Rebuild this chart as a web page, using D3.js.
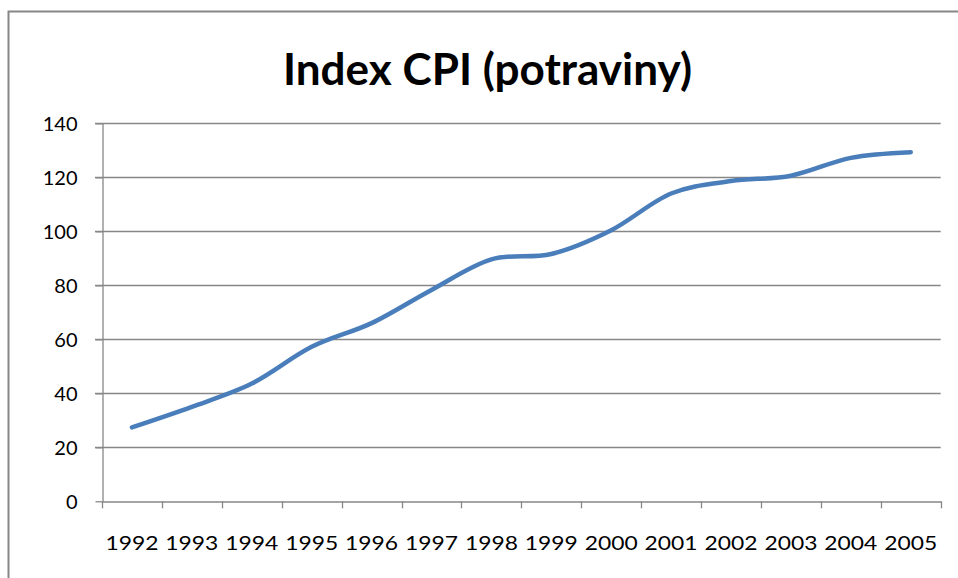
<!DOCTYPE html>
<html><head><meta charset="utf-8">
<script src="https://cdn.jsdelivr.net/npm/d3@7"></script>
<style>html,body{margin:0;padding:0;background:#fff;}svg{display:block;}</style>
</head><body>
<script>
const title = "Index CPI (potraviny)";
const years = ["1992","1993","1994","1995","1996","1997","1998","1999","2000","2001","2002","2003","2004","2005"];
const cpi = [27.4, 35, 43.6, 57.2, 66, 78.3, 89.6, 91.6, 100.4, 114, 118.6, 120.6, 127.2, 129.3];
const yTicks = [0, 20, 40, 60, 80, 100, 120, 140];

const W = 958, H = 578;
const svg = d3.select("body").append("svg").attr("width", W).attr("height", H);
svg.append("rect").attr("width", W).attr("height", H).attr("fill", "#fff");
// outer frame (cut off at right/bottom)
svg.append("rect").attr("x", 8.5).attr("y", 11.5).attr("width", W + 20).attr("height", H + 20)
  .attr("fill", "none").attr("stroke", "#878787").attr("stroke-width", 2);

const m = {l: 102, r: 940.7, t: 123.3, b: 501.3};
const x = d3.scaleBand().domain(years).range([m.l, m.r]);
const y = d3.scaleLinear().domain([0, 140]).range([m.b, m.t]);
const font = "Lato, 'Open Sans', sans-serif";

// gridlines
svg.append("g").selectAll("line").data(yTicks.filter(d => d > 0)).join("line")
  .attr("x1", m.l - 7).attr("x2", m.r).attr("y1", d => Math.round(y(d)) + 0.5).attr("y2", d => Math.round(y(d)) + 0.5)
  .attr("stroke", "#878787").attr("stroke-width", 1.3);

// y axis
const ya = svg.append("g").attr("transform", `translate(${m.l + 0.5},0)`)
  .call(d3.axisLeft(y).tickValues(yTicks).tickSize(7).tickSizeOuter(0).tickPadding(18));
ya.select(".domain").attr("stroke", "#878787").attr("stroke-width", 1.3);
ya.selectAll(".tick line").attr("stroke", "#878787").attr("stroke-width", 1.3);
ya.selectAll(".tick text").attr("font-family", font).attr("font-size", 20).attr("fill", "#000")
  .attr("x", -25).attr("dy", "0.35em");

// x axis
const xa = svg.append("g").attr("transform", `translate(0,${Math.round(m.b) + 0.5})`)
  .call(d3.axisBottom(x).tickSize(0).tickSizeOuter(0));
xa.select(".domain").attr("stroke", "#878787").attr("stroke-width", 1.5);
xa.selectAll(".tick text").attr("font-family", font).attr("font-size", 20).attr("fill", "#000")
  .attr("y", 41).attr("dy", "0.35em").attr("textLength", 53).attr("lengthAdjust", "spacingAndGlyphs");
// category boundary ticks
const bounds = years.map(d => x(d)).concat([m.r]);
svg.append("g").selectAll("line").data(bounds).join("line")
  .attr("x1", d => Math.round(d) + 0.5).attr("x2", d => Math.round(d) + 0.5)
  .attr("y1", m.b).attr("y2", m.b + 7).attr("stroke", "#878787").attr("stroke-width", 1.3);

// line
const line = d3.line().x((d, i) => x(years[i]) + x.bandwidth() / 2).y(d => y(d))
  .curve(d3.curveCardinal.tension(0));
svg.append("path").datum(cpi).attr("d", line).attr("fill", "none")
  .attr("stroke", "#4a7ebb").attr("stroke-width", 4.5).attr("stroke-linecap", "round");

// title
svg.append("text").attr("x", 487.5).attr("y", 85).attr("text-anchor", "middle")
  .attr("font-family", font).attr("font-weight", "bold").attr("font-size", 44).attr("fill", "#000")
  .attr("textLength", 409).attr("lengthAdjust", "spacingAndGlyphs").text(title);
</script>
</body></html>
